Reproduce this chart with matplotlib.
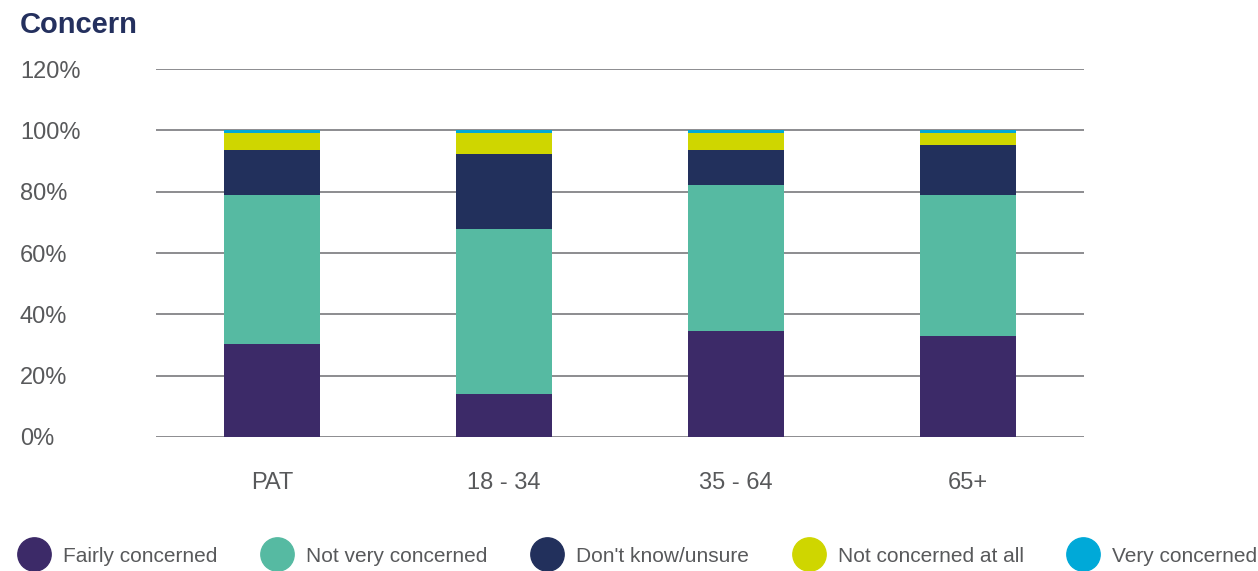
import numpy as np
import matplotlib.pyplot as plt

plt.rcParams.update({
    "font.family": ["Liberation Sans", "DejaVu Sans"],
})

categories = ["PAT", "18 - 34", "35 - 64", "65+"]
series_names = ["Fairly concerned", "Not very concerned", "Don't know/unsure",
                "Not concerned at all", "Very concerned"]
fairly = [30.3, 14.0, 34.5, 33.0]
not_very = [48.5, 53.8, 47.6, 45.8]
dont_know = [14.7, 24.4, 11.4, 16.3]
not_at_all = [5.5, 6.8, 5.5, 3.9]
very = [1.0, 1.0, 1.0, 1.0]
colors = ["#3c2a68", "#56baa2", "#22305c", "#cfd600", "#00a9d8"]
text_grey = "#58595b"

fig = plt.figure(figsize=(12.58, 5.71), dpi=100)
ax = fig.add_axes([0.124, 0.2347, 0.7377, 0.6443])

x = np.arange(len(categories))
bottom = np.zeros(len(categories))
for vals, name, col in zip([fairly, not_very, dont_know, not_at_all, very],
                           series_names, colors):
    ax.bar(x, vals, width=0.41, bottom=bottom, color=col, label=name,
           zorder=3, linewidth=0)
    bottom += np.array(vals)

ax.set_xlim(-0.5, 3.5)
ax.set_ylim(0, 120)
ax.set_yticks(np.arange(0, 121, 20))
ax.set_yticklabels([f"{v}%" for v in range(0, 121, 20)])
ax.set_xticks(x)
ax.set_xticklabels(categories)

ax.grid(axis="y", color="#6d6e71", linewidth=1.1, zorder=0)
for s in ax.spines.values():
    s.set_visible(False)
ax.tick_params(axis="both", length=0, labelsize=17, colors=text_grey)
ax.tick_params(axis="y", pad=98)
ax.tick_params(axis="x", pad=25)
for lbl in ax.get_yticklabels():
    lbl.set_horizontalalignment("left")

fig.text(0.016, 0.956, "Concern", fontsize=21, fontweight="bold",
         color="#24305e", va="center", ha="left")

handles, labels = ax.get_legend_handles_labels()
marker_handles = [plt.Line2D([], [], marker="o", linestyle="", markersize=24,
                             markerfacecolor=c, markeredgecolor=c) for c in colors]
leg = fig.legend(marker_handles, labels, loc="center left", ncol=5,
                 bbox_to_anchor=(0.0165, 0.026), frameon=False, fontsize=15,
                 handletextpad=0.75, columnspacing=2.2, handlelength=1.3,
                 borderaxespad=0, borderpad=0)
for t in leg.get_texts():
    t.set_color(text_grey)

fig.savefig("out.png", dpi=100)
